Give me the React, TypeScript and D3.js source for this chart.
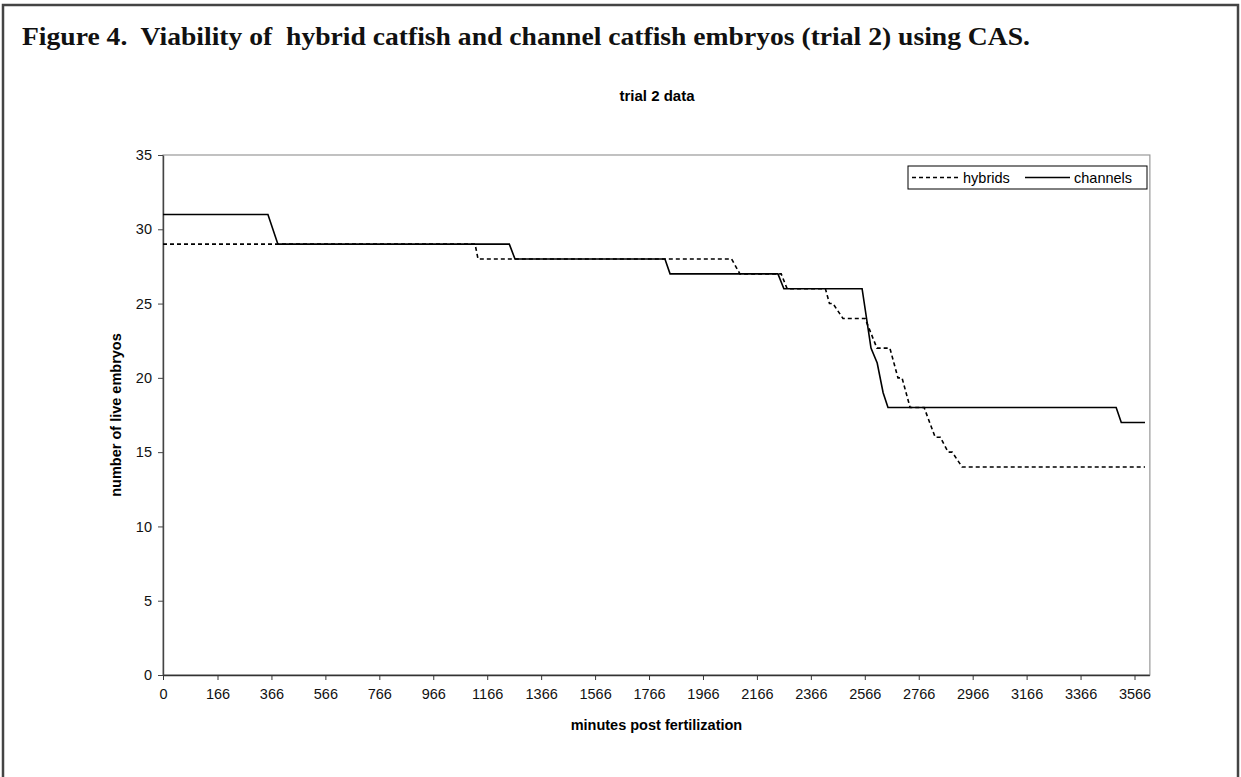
import { useEffect, useRef } from "react";
import * as d3 from "d3";

// minutes post fertilization at each corner of the step lines
const hybridMinutes = [0, 1121, 1132, 2072, 2103, 2256, 2278, 2420, 2435, 2448, 2485, 2567, 2611, 2659, 2689, 2704, 2734, 2786, 2827, 2846, 2875, 2890, 2927, 3605];
const hybridAlive = [29, 29, 28, 28, 27, 27, 26, 26, 25, 25, 24, 24, 22, 22, 20, 20, 18, 18, 16, 16, 15, 15, 14, 14];

const channelMinutes = [0, 353, 390, 1248, 1269, 1825, 1844, 2244, 2266, 2556, 2589, 2612, 2634, 2652, 3498, 3517, 3605];
const channelAlive = [31, 31, 29, 29, 28, 28, 27, 27, 26, 26, 22, 21, 19, 18, 18, 17, 17];

const xTicks = [0, 166, 366, 566, 766, 966, 1166, 1366, 1566, 1766, 1966, 2166, 2366, 2566, 2766, 2966, 3166, 3366, 3566];
const yTicks = [0, 5, 10, 15, 20, 25, 30, 35];

const W = 1241,
  H = 777;

export default function App() {
  const ref = useRef<SVGSVGElement>(null);

  useEffect(() => {
    const svg = d3.select(ref.current);
    svg.selectAll("*").remove();

    const left = 163,
      top = 155,
      bottom = 675;

    // excel category axis: first label gap is 166 min, the rest 200 min, same width
    const x = d3
      .scaleLinear()
      .domain([0, 166, 3566])
      .range([left, 217.5, 1134.5]);
    const right = x(3623);

    const y = d3.scaleLinear().domain([0, 35]).range([bottom, top]);

    const sans = "Arial, 'Liberation Sans', sans-serif";
    const fs = 14.5;

    // figure frame
    svg
      .append("rect")
      .attr("x", 3)
      .attr("y", 5)
      .attr("width", 1235)
      .attr("height", 820)
      .attr("fill", "none")
      .attr("stroke", "#444")
      .attr("stroke-width", 2.5);

    svg
      .append("text")
      .attr("x", 22)
      .attr("y", 45)
      .style("white-space", "pre")
      .attr("font-family", "'Liberation Serif', 'Times New Roman', serif")
      .attr("font-weight", "bold")
      .attr("font-size", 25)
      .attr("textLength", 1008)
      .attr("lengthAdjust", "spacingAndGlyphs")
      .attr("fill", "#111")
      .text("Figure 4.  Viability of  hybrid catfish and channel catfish embryos (trial 2) using CAS.");

    svg
      .append("text")
      .attr("x", 657)
      .attr("y", 101)
      .attr("text-anchor", "middle")
      .attr("font-family", sans)
      .attr("font-weight", "bold")
      .attr("font-size", 15)
      .text("trial 2 data");

    // plot area border
    svg
      .append("rect")
      .attr("x", left)
      .attr("y", top)
      .attr("width", right - left)
      .attr("height", bottom - top)
      .attr("fill", "white")
      .attr("stroke", "#999")
      .attr("stroke-width", 1.2);

    const gx = svg
      .append("g")
      .attr("transform", `translate(0,${bottom})`)
      .call(
        d3
          .axisBottom(x)
          .tickValues(xTicks)
          .tickSize(5)
          .tickSizeOuter(0)
          .tickPadding(9)
          .tickFormat((d) => String(d))
      );
    gx.select(".domain").attr("d", `M${left},0.5H${right}`).attr("stroke", "#333").attr("stroke-width", 1.4);
    gx.selectAll(".tick line").attr("stroke", "#333");
    gx.selectAll("text").attr("font-family", sans).attr("font-size", fs).attr("fill", "#111");

    const gy = svg
      .append("g")
      .attr("transform", `translate(${left},0)`)
      .call(d3.axisLeft(y).tickValues(yTicks).tickSize(5).tickSizeOuter(0).tickPadding(6));
    gy.select(".domain").attr("stroke", "#444").attr("stroke-width", 1.4);
    gy.selectAll(".tick line").attr("stroke", "#444");
    gy.selectAll("text").attr("font-family", sans).attr("font-size", fs).attr("fill", "#111");

    svg
      .append("text")
      .attr("transform", `translate(121,${(top + bottom) / 2}) rotate(-90)`)
      .attr("text-anchor", "middle")
      .attr("font-family", sans)
      .attr("font-weight", "bold")
      .attr("font-size", fs)
      .text("number of live embryos");

    svg
      .append("text")
      .attr("x", (left + right) / 2)
      .attr("y", 730)
      .attr("text-anchor", "middle")
      .attr("font-family", sans)
      .attr("font-weight", "bold")
      .attr("font-size", fs)
      .text("minutes post fertilization");

    const line = d3
      .line<[number, number]>()
      .x((d) => x(d[0]))
      .y((d) => y(d[1]));

    const hybrids = hybridMinutes.map((m, i) => [m, hybridAlive[i]] as [number, number]);
    const channels = channelMinutes.map((m, i) => [m, channelAlive[i]] as [number, number]);

    svg
      .append("path")
      .datum(hybrids)
      .attr("d", line)
      .attr("fill", "none")
      .attr("stroke", "#000")
      .attr("stroke-width", 1.6)
      .attr("stroke-dasharray", "4,3");

    svg
      .append("path")
      .datum(channels)
      .attr("d", line)
      .attr("fill", "none")
      .attr("stroke", "#000")
      .attr("stroke-width", 1.6);

    // legend
    const lg = svg.append("g").attr("transform", "translate(908,166)");
    lg.append("rect")
      .attr("width", 239)
      .attr("height", 23)
      .attr("fill", "white")
      .attr("stroke", "#000")
      .attr("stroke-width", 1);
    lg.append("line")
      .attr("x1", 4)
      .attr("x2", 51)
      .attr("y1", 11.5)
      .attr("y2", 11.5)
      .attr("stroke", "#000")
      .attr("stroke-width", 1.6)
      .attr("stroke-dasharray", "4,3");
    lg.append("text")
      .attr("x", 55)
      .attr("y", 16.5)
      .attr("font-family", sans)
      .attr("font-size", fs)
      .text("hybrids");
    lg.append("line")
      .attr("x1", 117)
      .attr("x2", 162)
      .attr("y1", 11.5)
      .attr("y2", 11.5)
      .attr("stroke", "#000")
      .attr("stroke-width", 1.6);
    lg.append("text")
      .attr("x", 166)
      .attr("y", 16.5)
      .attr("font-family", sans)
      .attr("font-size", fs)
      .text("channels");
  }, []);

  return (
    <svg
      ref={ref}
      width={W}
      height={H}
      style={{ position: "absolute", left: 0, top: 0, background: "white" }}
    />
  );
}
